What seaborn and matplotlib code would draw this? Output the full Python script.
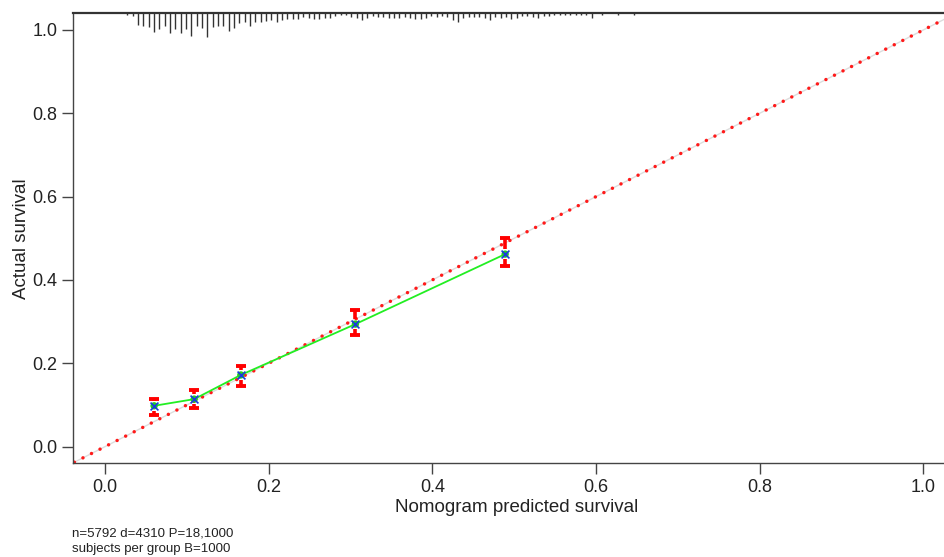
import numpy as np
import pandas as pd
import matplotlib
matplotlib.use("Agg")
import matplotlib.pyplot as plt
import seaborn as sns

# ---------------- data ----------------
pred = [0.060, 0.109, 0.166, 0.306, 0.489]
obs = [0.098, 0.114, 0.172, 0.294, 0.462]
lower = [0.077, 0.093, 0.146, 0.268, 0.434]
upper = [0.114, 0.136, 0.194, 0.328, 0.501]

ideal_x = [-0.1, 1.1]
ideal_y = [-0.1, 1.1]

# histogram spikes of predicted values (top rug)
rug_start = 0.0273
rug_step = 0.00652
rug_counts = [6, 8, 33, 36, 40, 53, 46, 38, 56, 46, 56, 46, 66, 36, 43, 68, 40, 38, 36, 50,
              43, 28, 26, 36, 26, 26, 23, 20,
              26, 18, 16, 16, 16, 10, 13, 16, 16, 13, 13, 8, 6, 6, 10, 13, 18, 13, 8, 10,
              10, 13, 13, 13, 10, 13, 16, 16, 13,
              8, 10, 8, 10, 20, 26, 13, 10, 10, 10, 13, 20, 10, 13, 10, 16, 13, 8, 8, 10,
              13, 8, 8, 6, 6, 6, 5, 4, 4, 4, 13, 0, 4, 0, 0, 5, 0, 0, 4]

x_ticks = [0.0, 0.2, 0.4, 0.6, 0.8, 1.0]
x_labels = ["0.0", "0.2", "0.4", "0.6", "0.8", "1.0"]
y_ticks = [0.0, 0.2, 0.4, 0.6, 0.8, 1.0]
y_labels = ["0.0", "0.2", "0.4", "0.6", "0.8", "1.0"]

xlabel = "Nomogram predicted survival"
ylabel = "Actual survival"
note1 = "n=5792 d=4310 P=18,1000"
note2 = "subjects per group B=1000"

# ---------------- style ----------------
sns.set_style("ticks")
plt.rcParams["font.family"] = ["Liberation Sans", "DejaVu Sans"]

W, H = 945, 557
fig = plt.figure(figsize=(W / 100, H / 100), dpi=100)
ax = fig.add_axes([73 / W, (H - 463.3) / H, (W - 73) / W, 450 / H])

spine_col = "#444444"
txt_col = "#222222"

cal = pd.DataFrame({"pred": pred, "obs": obs, "lower": lower, "upper": upper})
ideal = pd.DataFrame({"x": ideal_x, "y": ideal_y})

# ideal line: light grey line with red dots
sns.lineplot(data=ideal, x="x", y="y", ax=ax, color="#dddddd", lw=1.0, zorder=1)
sns.lineplot(data=ideal, x="x", y="y", ax=ax, color="#ff1a1a", lw=2.5,
             linestyle=(0, (0.01, 2.75)), dash_capstyle="round", zorder=2)

# calibration line
sns.lineplot(data=cal, x="pred", y="obs", ax=ax, color="#22ee22", lw=1.3, zorder=3,
             sort=False)

# error bars (red, with gap around the point)
gap = 0.012
arr_obs = np.array(obs)
up_start = np.minimum(arr_obs + gap, np.array(upper))
lo_end = np.maximum(arr_obs - gap, np.array(lower))
ax.vlines(pred, up_start, upper, color="#ff0000", lw=2.6, zorder=4)
ax.vlines(pred, lower, lo_end, color="#ff0000", lw=2.6, zorder=4)
ax.plot(pred, upper, ls="none", marker="_", ms=7.5, mew=2.8, color="#ff0000", zorder=4)
ax.plot(pred, lower, ls="none", marker="_", ms=7.5, mew=2.8, color="#ff0000", zorder=4)

# points
sns.scatterplot(data=cal, x="pred", y="obs", ax=ax, color="#22cc22", s=28,
                edgecolor="none", zorder=5)
sns.scatterplot(data=cal, x="pred", y="obs", ax=ax, color="#1a3adf", marker="x",
                s=32, linewidth=1.2, zorder=6)

# top rug (histogram spikes)
rug_x = rug_start + rug_step * np.arange(len(rug_counts))
counts = np.array(rug_counts, dtype=float)
scale = (23.5 / 450) / 68.0
mask = counts > 0
ax.vlines(rug_x[mask], 1.0 - counts[mask] * scale, 1.0,
          transform=ax.get_xaxis_transform(), color="#333333", lw=1.0, zorder=3)

# axes
ax.set_xlim(-0.0391, 1.0265)
ax.set_ylim(-0.040, 1.040)
ax.set_xticks(x_ticks)
ax.set_xticklabels(x_labels)
ax.set_yticks(y_ticks)
ax.set_yticklabels(y_labels)
ax.tick_params(axis="both", length=8, width=1.0, color=spine_col,
               labelsize=13, labelcolor=txt_col, pad=3)
ax.set_xlabel(xlabel, fontsize=13.5, color=txt_col)
ax.set_ylabel(ylabel, fontsize=13.5, color=txt_col)
ax.xaxis.set_label_coords((517 - 73) / (W - 73), -(507 - 463.3) / 450)
ax.yaxis.set_label_coords(-(73 - 22) / (W - 73), 0.5)
ax.xaxis.label.set_va("center")
ax.yaxis.label.set_va("center")

for side in ["left", "bottom"]:
    ax.spines[side].set_color(spine_col)
    ax.spines[side].set_linewidth(1.0)
ax.spines["top"].set_visible(True)
ax.spines["top"].set_color("#333333")
ax.spines["top"].set_linewidth(1.6)
ax.spines["right"].set_visible(False)

fig.text(72 / W, 1 - 533 / H, note1, fontsize=9.5, color=txt_col, va="center", ha="left")
fig.text(72 / W, 1 - 549 / H, note2, fontsize=9.5, color=txt_col, va="center", ha="left")

fig.savefig("out.png", dpi=100)
